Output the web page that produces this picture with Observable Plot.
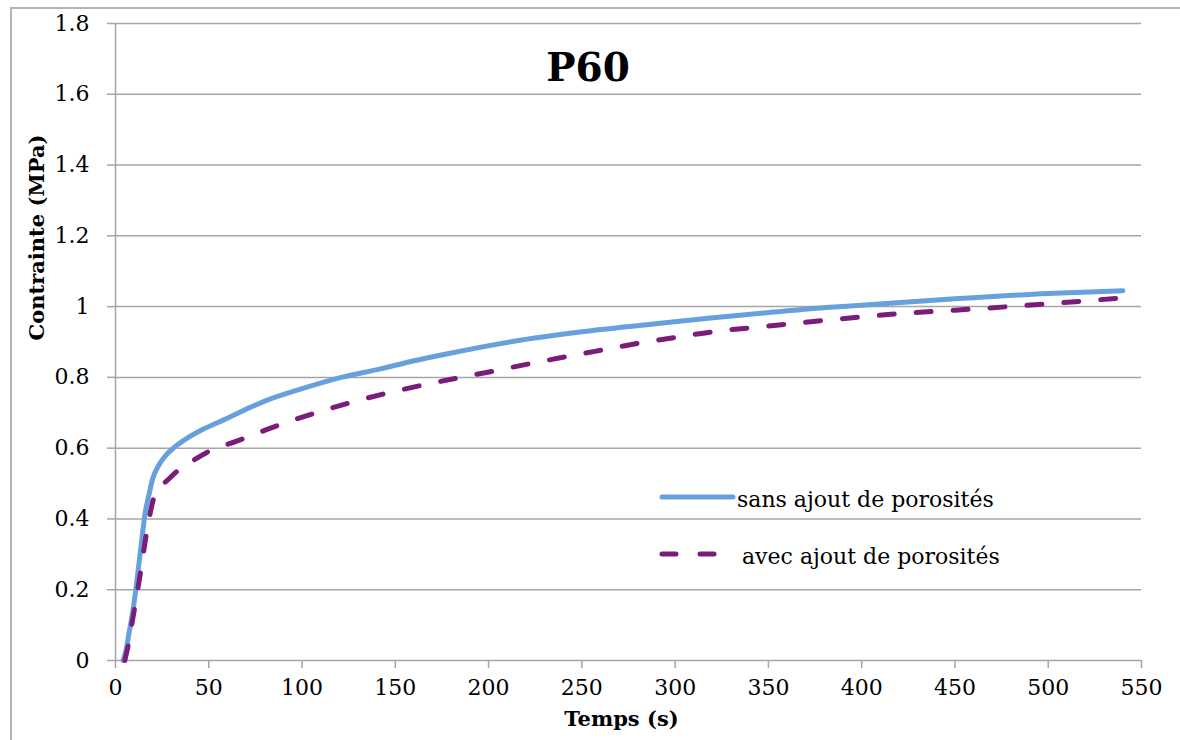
<!DOCTYPE html>
<html>
<head>
<meta charset="utf-8">
<script src="https://cdn.jsdelivr.net/npm/d3@7"></script>
<script src="https://cdn.jsdelivr.net/npm/@observablehq/plot@0.6"></script>
<style>
  html, body { margin: 0; padding: 0; background: #fff; overflow: hidden; }
  #wrap { position: relative; width: 1180px; height: 740px; }
  #frame { position: absolute; left: 10px; top: 7px; width: 1300px; height: 900px;
           border-left: 2px solid #b4b4b4; border-top: 2px solid #b4b4b4; box-sizing: border-box; }
  #chart { position: absolute; left: 0; top: 0; }
  #legend { position: absolute; left: 0; top: 0; pointer-events: none; }
</style>
</head>
<body>
<div id="wrap">
  <div id="frame"></div>
  <div id="chart"></div>
  <svg id="legend" width="1180" height="740"></svg>
</div>
<script>
// ---- data ----
const seriesNames = ["sans ajout de porosités", "avec ajout de porosités"];
const titleText = "P60";
const xLabel = "Temps (s)";
const yLabel = "Contrainte (MPa)";

const xTicks = [0, 50, 100, 150, 200, 250, 300, 350, 400, 450, 500, 550];
const yTicks = [0, 0.2, 0.4, 0.6, 0.8, 1, 1.2, 1.4, 1.6, 1.8];
const yTickLabels = ["0", "0.2", "0.4", "0.6", "0.8", "1", "1.2", "1.4", "1.6", "1.8"];

const tSans = [4, 5.5, 7, 9.6, 13.4, 16, 18, 20, 23, 27, 31, 38, 45.6, 58, 81, 100, 121, 142, 160, 178, 213.5, 249, 285, 319, 350, 383, 400, 450, 500, 540];
const vSans = [0, 0.025, 0.07, 0.15, 0.31, 0.42, 0.47, 0.515, 0.55, 0.58, 0.60, 0.627, 0.65, 0.68, 0.735, 0.768, 0.80, 0.824, 0.847, 0.867, 0.902, 0.928, 0.949, 0.968, 0.983, 0.998, 1.004, 1.022, 1.037, 1.045];

const tAvec = [5, 6.5, 8.5, 11.6, 14, 16, 18, 20, 24, 28, 33, 38.6, 49, 65, 87, 124, 163.5, 184, 203.7, 223.4, 244, 263.6, 283.2, 303.8, 319, 350, 374, 400, 428, 450, 500, 538];
const vAvec = [0, 0.035, 0.095, 0.19, 0.27, 0.34, 0.40, 0.45, 0.49, 0.51, 0.535, 0.555, 0.588, 0.62, 0.664, 0.726, 0.777, 0.799, 0.819, 0.84, 0.861, 0.88, 0.899, 0.916, 0.928, 0.945, 0.958, 0.971, 0.983, 0.99, 1.008, 1.024];

const colors = ["#66a1de", "#7b1c79"];

const sansData = tSans.map((t, i) => ({t, v: vSans[i]}));
const avecData = tAvec.map((t, i) => ({t, v: vAvec[i]}));

const font = "DejaVu Serif";
const gridColor = "#a6a6a6";

const chart = Plot.plot({
  width: 1180,
  height: 740,
  marginLeft: 115,
  marginRight: 39,
  marginTop: 23,
  marginBottom: 80,
  style: {fontFamily: font, fontSize: "22px", color: "#000", background: "transparent"},
  x: {domain: [0, 550]},
  y: {domain: [0, 1.8]},
  marks: [
    Plot.ruleY(yTicks, {stroke: gridColor, strokeWidth: 1.5}),
    Plot.ruleX([0], {stroke: gridColor, strokeWidth: 1.5}),
    Plot.axisY(yTicks, {
      tickSize: 8, tickPadding: 18, stroke: gridColor, strokeWidth: 1.5, fill: "#000",
      fontSize: 22, fontFamily: font, label: null,
      tickFormat: d => yTickLabels[yTicks.indexOf(d)]
    }),
    Plot.axisX(xTicks, {
      tickSize: 8, tickPadding: 11, stroke: gridColor, strokeWidth: 1.5, fill: "#000",
      fontSize: 22, fontFamily: font, label: null, tickFormat: d => String(d)
    }),
    Plot.line(sansData, {x: "t", y: "v", stroke: colors[0], strokeWidth: 5, curve: "monotone-x", strokeLinecap: "round"}),
    Plot.line(avecData, {x: "t", y: "v", stroke: colors[1], strokeWidth: 5, curve: "monotone-x",
      strokeDasharray: "15,22", strokeLinecap: "round"}),
    Plot.text([titleText], {frameAnchor: "top", lineAnchor: "middle", dx: -40.5, dy: 45.5, fontSize: 39, fontWeight: "bold", fontFamily: font, fill: "#000"}),
    Plot.text([xLabel], {frameAnchor: "bottom", lineAnchor: "middle", dx: -7, dy: 58.3, fontSize: 21, fontWeight: "bold", fontFamily: font, fill: "#000"}),
    Plot.text([yLabel], {frameAnchor: "left", lineAnchor: "middle", dx: -78.7, dy: -1.5, rotate: -90, fontSize: 21, fontWeight: "bold", fontFamily: font, fill: "#000"})
  ]
});
document.getElementById("chart").appendChild(chart);

// ---- legend (inside plot area) ----
const lg = d3.select("#legend");
const rows = [
  {name: seriesNames[0], color: colors[0], dash: null, y: 497, tx: 737},
  {name: seriesNames[1], color: colors[1], dash: "14,24", y: 554, tx: 742}
];
rows.forEach(r => {
  const ln = lg.append("line")
    .attr("x1", 662).attr("x2", r.dash ? 716 : 733)
    .attr("y1", r.y).attr("y2", r.y)
    .attr("stroke", r.color).attr("stroke-width", 5)
    .attr("stroke-linecap", "round");
  if (r.dash) ln.attr("stroke-dasharray", r.dash);
  lg.append("text")
    .attr("x", r.tx).attr("y", r.y + 10)
    .attr("font-family", font).attr("font-size", 22)
    .attr("fill", "#000")
    .text(r.name);
});
</script>
</body>
</html>
